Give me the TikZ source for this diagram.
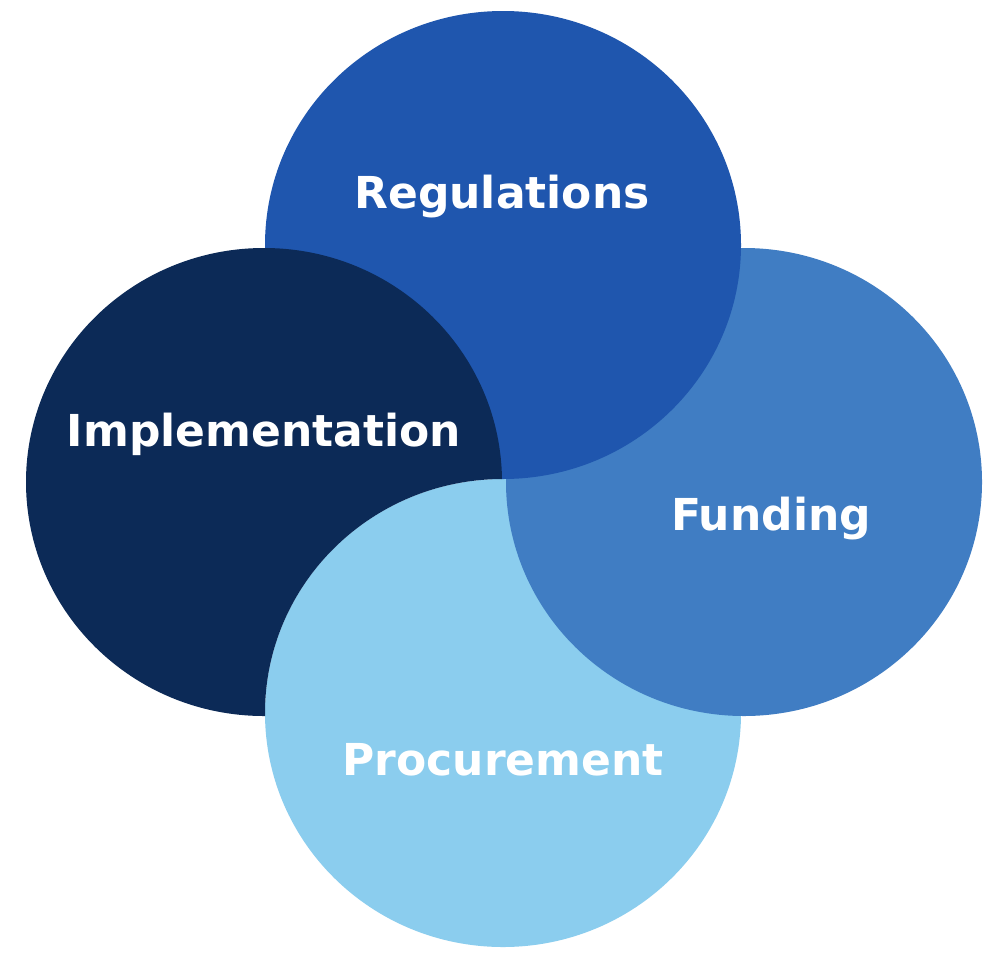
\documentclass[tikz,border=0pt]{standalone}
\usepackage{fontspec}
\usetikzlibrary{shapes.geometric}
\setmainfont{DejaVu Sans}
\definecolor{cReg}{HTML}{1F56AE}
\definecolor{cImp}{HTML}{0C2A57}
\definecolor{cFun}{HTML}{407DC3}
\definecolor{cPro}{HTML}{8BCDEE}
\tikzset{
  disc/.style={ellipse, minimum width=476pt, minimum height=468pt, inner sep=0pt, draw=none},
  lbl/.style={text=white, font=\fontsize{44}{52}\selectfont\bfseries, anchor=base, inner sep=0pt},
}
\newcommand{\discpath}[1]{(#1.center) ellipse (238pt and 234pt)}
\begin{document}
\begin{tikzpicture}[x=1pt,y=-1pt]
\useasboundingbox[fill=white] (0,0) rectangle (992,953);
\node[disc] (pro) at (503,713) {};
\node[disc] (fun) at (744,482) {};
\node[disc] (reg) at (503,245) {};
\node[disc] (imp) at (264,482) {};
% Procurement at the bottom of the stack, Funding over it
\fill[cPro] \discpath{pro};
\fill[cFun] \discpath{fun};
% Regulations and Implementation: everywhere except inside Procurement
\begin{scope}[even odd rule]
  \clip (-10,-10) rectangle (1002,963) \discpath{pro};
  \fill[nonzero rule, cReg] \discpath{reg};
  \fill[nonzero rule, cImp] \discpath{imp};
\end{scope}
\node[lbl] (treg) at (502,208) {Regulations};
\node[lbl] (timp) at (264,446) {Implementation};
\node[lbl] (tfun) at (771,530) {Funding};
\node[lbl] (tpro) at (503,775) {Procurement};
\end{tikzpicture}
\end{document}
